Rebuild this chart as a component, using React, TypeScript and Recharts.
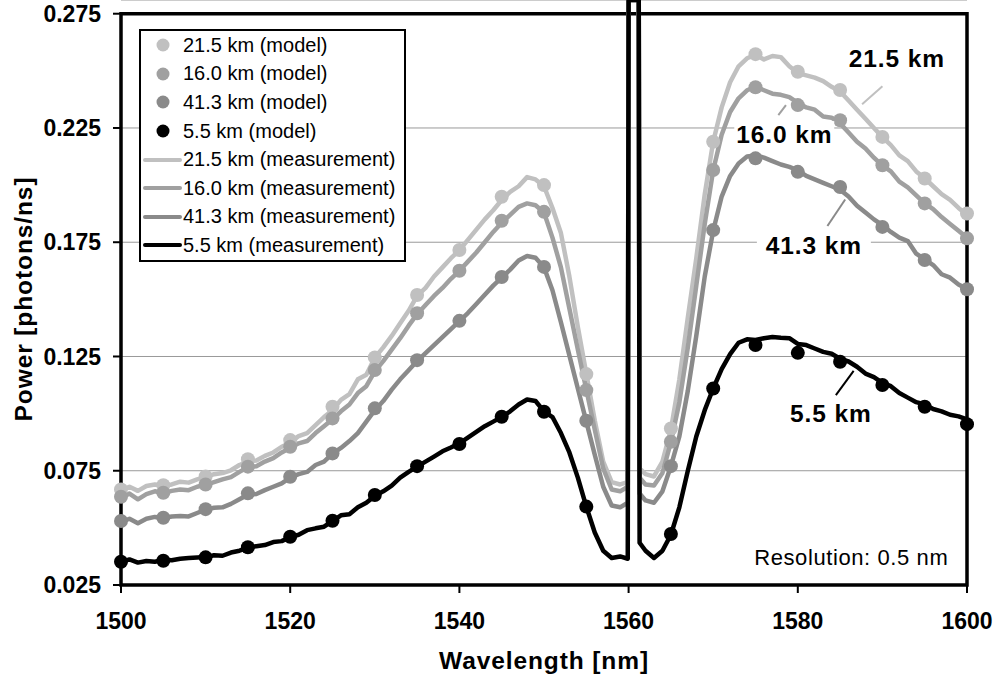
import {
  ComposedChart, Line, Scatter, XAxis, YAxis, CartesianGrid, Legend,
  ReferenceArea, ReferenceLine, ReferenceDot,
} from 'recharts'

const font = '"Liberation Sans", Arial, Helvetica, sans-serif'

// measurement grid (nm); the pump line sits at 1560-1561.3 and runs off the top
const wavelength = [
  1500, 1501, 1502, 1503, 1504, 1505, 1506, 1507, 1508, 1509,
  1510, 1511, 1512, 1513, 1514, 1515, 1516, 1517, 1518, 1519,
  1520, 1521, 1522, 1523, 1524, 1525, 1526, 1527, 1528, 1529,
  1530, 1531, 1532, 1533, 1534, 1535, 1536, 1537, 1538, 1539,
  1540, 1541, 1542, 1543, 1544, 1545, 1546, 1547, 1548, 1549,
  1550, 1551, 1552, 1553, 1554, 1555, 1556, 1557, 1558, 1559,
  1559.9, 1560, 1561.2, 1561.3,
  1562, 1563, 1564, 1565, 1566, 1567, 1568, 1569, 1570, 1571,
  1572, 1573, 1574, 1575, 1576, 1577, 1578, 1579, 1580, 1581,
  1582, 1583, 1584, 1585, 1586, 1587, 1588, 1589, 1590, 1591,
  1592, 1593, 1594, 1595, 1596, 1597, 1598, 1599, 1600,
]

const meas215 = [
  0.0665, 0.0680, 0.0662, 0.0683, 0.0690, 0.0684, 0.0690, 0.0702, 0.0698, 0.0712,
  0.0722, 0.0735, 0.0740, 0.0752, 0.0775, 0.0790, 0.0795, 0.0815, 0.0830, 0.0855,
  0.0872, 0.0902, 0.0915, 0.0950, 0.0985, 0.1015, 0.1060, 0.1085, 0.1150, 0.1170,
  0.1245, 0.1290, 0.1340, 0.1395, 0.1450, 0.1515, 0.1550, 0.1600, 0.1640, 0.1680,
  0.1715, 0.1760, 0.1805, 0.1850, 0.1890, 0.1935, 0.1970, 0.1995, 0.2035, 0.2025,
  0.1995, 0.1900, 0.1790, 0.1600, 0.1380, 0.1175, 0.0970, 0.0790, 0.0700, 0.0690,
  0.0700, 0.281, 0.281, 0.0760,
  0.0735, 0.0725, 0.0790, 0.0930, 0.1150, 0.1420, 0.1680, 0.1960, 0.2190, 0.2340,
  0.2450, 0.2520, 0.2555, 0.2570, 0.2550, 0.2565, 0.2560, 0.2520, 0.2490, 0.2480,
  0.2470, 0.2455, 0.2430, 0.2410, 0.2370, 0.2330, 0.2290, 0.2250, 0.2210, 0.2175,
  0.2130, 0.2105, 0.2060, 0.2030, 0.1995, 0.1960, 0.1935, 0.1900, 0.1870,
]

const meas160 = [
  0.0630, 0.0650, 0.0625, 0.0648, 0.0660, 0.0652, 0.0662, 0.0668, 0.0665, 0.0680,
  0.0688, 0.0700, 0.0712, 0.0722, 0.0745, 0.0765, 0.0770, 0.0790, 0.0805, 0.0830,
  0.0850, 0.0870, 0.0880, 0.0915, 0.0945, 0.0975, 0.1010, 0.1040, 0.1090, 0.1120,
  0.1185, 0.1230, 0.1280, 0.1330, 0.1385, 0.1435, 0.1475, 0.1515, 0.1550, 0.1590,
  0.1625, 0.1665, 0.1705, 0.1750, 0.1795, 0.1835, 0.1870, 0.1905, 0.1920, 0.1912,
  0.1880, 0.1770, 0.1640, 0.1460, 0.1280, 0.1105, 0.0930, 0.0760, 0.0668, 0.0660,
  0.0680, 0.281, 0.281, 0.0720,
  0.0690, 0.0685, 0.0740, 0.0875, 0.1050, 0.1290, 0.1560, 0.1830, 0.2065, 0.2220,
  0.2320, 0.2380, 0.2415, 0.2430, 0.2415, 0.2400, 0.2395, 0.2385, 0.2360, 0.2340,
  0.2330, 0.2300, 0.2295, 0.2270, 0.2230, 0.2190, 0.2160, 0.2120, 0.2085, 0.2060,
  0.2015, 0.1990, 0.1955, 0.1920, 0.1895, 0.1860, 0.1830, 0.1800, 0.1770,
]

const meas413 = [
  0.0525, 0.0540, 0.0520, 0.0540, 0.0548, 0.0543, 0.0550, 0.0552, 0.0550, 0.0565,
  0.0580, 0.0588, 0.0590, 0.0605, 0.0625, 0.0645, 0.0648, 0.0665, 0.0680, 0.0695,
  0.0720, 0.0735, 0.0745, 0.0775, 0.0790, 0.0825, 0.0850, 0.0880, 0.0915, 0.0965,
  0.1015, 0.1055, 0.1105, 0.1150, 0.1190, 0.1230, 0.1265, 0.1300, 0.1335, 0.1370,
  0.1405, 0.1440, 0.1480, 0.1520, 0.1560, 0.1595, 0.1630, 0.1670, 0.1690, 0.1682,
  0.1640, 0.1540, 0.1400, 0.1255, 0.1110, 0.0965, 0.0820, 0.0680, 0.0598, 0.0590,
  0.0610, 0.281, 0.281, 0.0650,
  0.0620, 0.0610, 0.0660, 0.0770, 0.0900, 0.1100, 0.1340, 0.1600, 0.1800, 0.1950,
  0.2040, 0.2095, 0.2125, 0.2130, 0.2120, 0.2105, 0.2090, 0.2080, 0.2065, 0.2040,
  0.2025, 0.2010, 0.1995, 0.1980, 0.1950, 0.1910, 0.1880, 0.1850, 0.1825, 0.1795,
  0.1770, 0.1755, 0.1700, 0.1675, 0.1650, 0.1610, 0.1595, 0.1565, 0.1545,
]

const meas55 = [
  0.0350, 0.0362, 0.0348, 0.0355, 0.0352, 0.0360, 0.0358, 0.0365, 0.0368, 0.0370,
  0.0372, 0.0380, 0.0378, 0.0392, 0.0400, 0.0412, 0.0420, 0.0425, 0.0438, 0.0442,
  0.0460, 0.0470, 0.0490, 0.0498, 0.0505, 0.0530, 0.0555, 0.0560, 0.0590, 0.0610,
  0.0640, 0.0660, 0.0685, 0.0720, 0.0745, 0.0768, 0.0790, 0.0812, 0.0835, 0.0852,
  0.0870, 0.0895, 0.0920, 0.0945, 0.0965, 0.0985, 0.1010, 0.1040, 0.1062, 0.1055,
  0.1010, 0.0985, 0.0915, 0.0830, 0.0720, 0.0593, 0.0480, 0.0400, 0.0368, 0.0375,
  0.0365, 0.281, 0.281, 0.0435,
  0.0400, 0.0368, 0.0400, 0.0470, 0.0590, 0.0750, 0.0900, 0.1015, 0.1110, 0.1195,
  0.1260, 0.1310, 0.1325, 0.1322, 0.1330, 0.1335, 0.1332, 0.1330, 0.1305, 0.1300,
  0.1285, 0.1270, 0.1262, 0.1240, 0.1228, 0.1205, 0.1175, 0.1160, 0.1135, 0.1120,
  0.1090, 0.1070, 0.1050, 0.1040, 0.1020, 0.1010, 0.0995, 0.0988, 0.0975,
]

// model points every 5 nm (none at the pump)
const modelWl = [1500, 1505, 1510, 1515, 1520, 1525, 1530, 1535, 1540, 1545, 1550, 1555,
  1565, 1570, 1575, 1580, 1585, 1590, 1595, 1600]
const model215 = [0.0668, 0.0687, 0.0725, 0.0800, 0.0884, 0.1030, 0.1246, 0.1519, 0.1716, 0.1949, 0.2000, 0.1173,
  0.0935, 0.2190, 0.2573, 0.2496, 0.2416, 0.2211, 0.2029, 0.1876]
const model160 = [0.0636, 0.0654, 0.0690, 0.0768, 0.0855, 0.0979, 0.1191, 0.1439, 0.1625, 0.1844, 0.1883, 0.1103,
  0.0877, 0.2066, 0.2428, 0.2350, 0.2284, 0.2087, 0.1920, 0.1767]
const model413 = [0.0530, 0.0544, 0.0582, 0.0651, 0.0724, 0.0826, 0.1023, 0.1234, 0.1406, 0.1598, 0.1642, 0.0969,
  0.0770, 0.1803, 0.2117, 0.2058, 0.1992, 0.1817, 0.1672, 0.1544]
const model55 = [0.0352, 0.0356, 0.0371, 0.0415, 0.0461, 0.0531, 0.0644, 0.0770, 0.0867, 0.0986, 0.1008, 0.0593,
  0.0473, 0.1110, 0.1300, 0.1266, 0.1227, 0.1125, 0.1030, 0.0954]

const xTicks = [1500, 1520, 1540, 1560, 1580, 1600]
const yTicks = [0.025, 0.075, 0.125, 0.175, 0.225, 0.275]

const series = [
  { key: 's215', name: '21.5 km', color: '#C0C0C0', meas: meas215, model: model215 },
  { key: 's160', name: '16.0 km', color: '#A0A0A0', meas: meas160, model: model160 },
  { key: 's413', name: '41.3 km', color: '#8A8A8A', meas: meas413, model: model413 },
  { key: 's55', name: '5.5 km', color: '#000000', meas: meas55, model: model55 },
]

// callout labels with their leader lines
const callouts = [
  { text: '21.5 km', x: 1591.7, y: 0.2555, w: 100, seg: [[1590.0, 0.2433], [1587.6, 0.2354]], color: '#C0C0C0' },
  { text: '16.0 km', x: 1578.4, y: 0.2223, w: 100, seg: [[1578.6, 0.2350], [1577.7, 0.2306]], color: '#A0A0A0' },
  { text: '41.3 km', x: 1581.9, y: 0.1737, w: 114, seg: [[1585.6, 0.1937], [1583.5, 0.1821]], color: '#8A8A8A' },
  { text: '5.5 km', x: 1583.9, y: 0.1002, w: 88, seg: [[1586.6, 0.1187], [1584.5, 0.1081]], color: '#000000' },
]

const rows = wavelength.map((wl, i) => {
  const r: Record<string, number> = { wl }
  series.forEach(s => { r[s.key] = s.meas[i] })
  return r
})

const modelRows = (vals: number[]) => modelWl.map((wl, i) => ({ wl, v: vals[i] }))

const boldText = { fontFamily: font, fontWeight: 700, fill: '#000' }

function LegendBox() {
  const items = [
    ...series.map(s => ({ label: `${s.name} (model)`, color: s.color, dot: true })),
    ...series.map(s => ({ label: `${s.name} (measurement)`, color: s.color, dot: false })),
  ]
  return (
    <div style={{
      width: 267, height: 233, boxSizing: 'border-box', border: '2px solid #000',
      background: '#fff', fontFamily: font, fontSize: 20, color: '#000',
    }}>
      {items.map(it => (
        <div key={it.label} style={{ height: 28.6, display: 'flex', alignItems: 'center' }}>
          <svg width={42} height={28} style={{ flex: 'none' }}>
            {it.dot
              ? <circle cx={22} cy={14} r={6.5} fill={it.color} />
              : <line x1={4} y1={14} x2={39} y2={14} stroke={it.color} strokeWidth={4} strokeLinecap="round" />}
          </svg>
          <span style={{ whiteSpace: 'nowrap' }}>{it.label}</span>
        </div>
      ))}
    </div>
  )
}

export default function App() {
  return (
    <div>
      <style>{'body{margin:0}'}</style>
      <ComposedChart width={995} height={678} data={rows} margin={{ top: 0, right: 28, bottom: 0, left: 0 }}>
        <CartesianGrid vertical={false} stroke="#999999" strokeWidth={1} />
        <XAxis
          type="number" dataKey="wl" domain={[1500, 1600]} ticks={xTicks} height={93}
          axisLine={false} tickLine={{ stroke: '#000', strokeWidth: 2 }} tickSize={8} tickMargin={20}
          tick={{ ...boldText, fontSize: 23 }}
          label={{
            value: 'Wavelength [nm]',
            content: (p: any) => (
              <text x={p.viewBox.x + p.viewBox.width / 2} y={p.viewBox.y + 75} textAnchor="middle"
                dominantBaseline="central" fontSize={24.5} letterSpacing={0.9} {...boldText}>
                Wavelength [nm]
              </text>
            ),
          }}
        />
        <YAxis
          type="number" domain={[0.025, 0.281]} ticks={yTicks} width={121}
          axisLine={false} tickLine={{ stroke: '#000', strokeWidth: 2 }} tickSize={8} tickMargin={12}
          tick={{ ...boldText, fontSize: 23 }} tickFormatter={(v: number) => v.toFixed(3)}
          label={{
            value: 'Power [photons/ns]',
            content: (p: any) => {
              const cx = p.viewBox.x + 23
              const cy = p.viewBox.y + p.viewBox.height / 2 + 6.5
              return (
                <text x={cx} y={cy} textAnchor="middle" dominantBaseline="central"
                  transform={`rotate(-90 ${cx} ${cy})`} fontSize={24.5} letterSpacing={0.9} {...boldText}>
                  Power [photons/ns]
                </text>
              )
            },
          }}
        />

        {series.map(s => (
          <Line key={s.key} type="linear" dataKey={s.key} name={`${s.name} (measurement)`}
            stroke={s.color} strokeWidth={4.5} strokeLinejoin="round" dot={false}
            activeDot={false} isAnimationActive={false} />
        ))}
        {series.map(s => (
          <Scatter key={s.key + 'm'} data={modelRows(s.model)} dataKey="v" name={`${s.name} (model)`}
            isAnimationActive={false}
            shape={(p: any) => <circle cx={p.cx} cy={p.cy} r={7} fill={s.color} />} />
        ))}

        <ReferenceArea x1={1500} x2={1600} y1={0.025} y2={0.275} fill="none" stroke="#000" strokeWidth={3.5} />

        {callouts.map(c => (
          <ReferenceLine key={c.text + 'l'} segment={[{ x: c.seg[0][0], y: c.seg[0][1] }, { x: c.seg[1][0], y: c.seg[1][1] }]}
            stroke={c.color} strokeWidth={2} />
        ))}
        {callouts.map(c => (
          <ReferenceDot key={c.text} x={c.x} y={c.y} r={0}
            shape={(p: any) => (
              <g>
                <rect x={p.cx - c.w / 2} y={p.cy - 13} width={c.w} height={26} fill="#fff" />
                <text x={p.cx} y={p.cy} textAnchor="middle" dominantBaseline="central"
                  fontSize={24.5} letterSpacing={0.9} {...boldText}>{c.text}</text>
              </g>
            )} />
        ))}
        <ReferenceDot x={1597.8} y={0.0372} r={0}
          shape={(p: any) => (
            <text x={p.cx} y={p.cy} textAnchor="end" dominantBaseline="central"
              fontFamily={font} fontSize={22} letterSpacing={0.6} fill="#000">Resolution: 0.5 nm</text>
          )} />

        <Legend layout="vertical" align="center" verticalAlign="middle"
          wrapperStyle={{ left: 139, top: 29, width: 267, height: 233 }}
          content={() => <LegendBox />} />
      </ComposedChart>
    </div>
  )
}
